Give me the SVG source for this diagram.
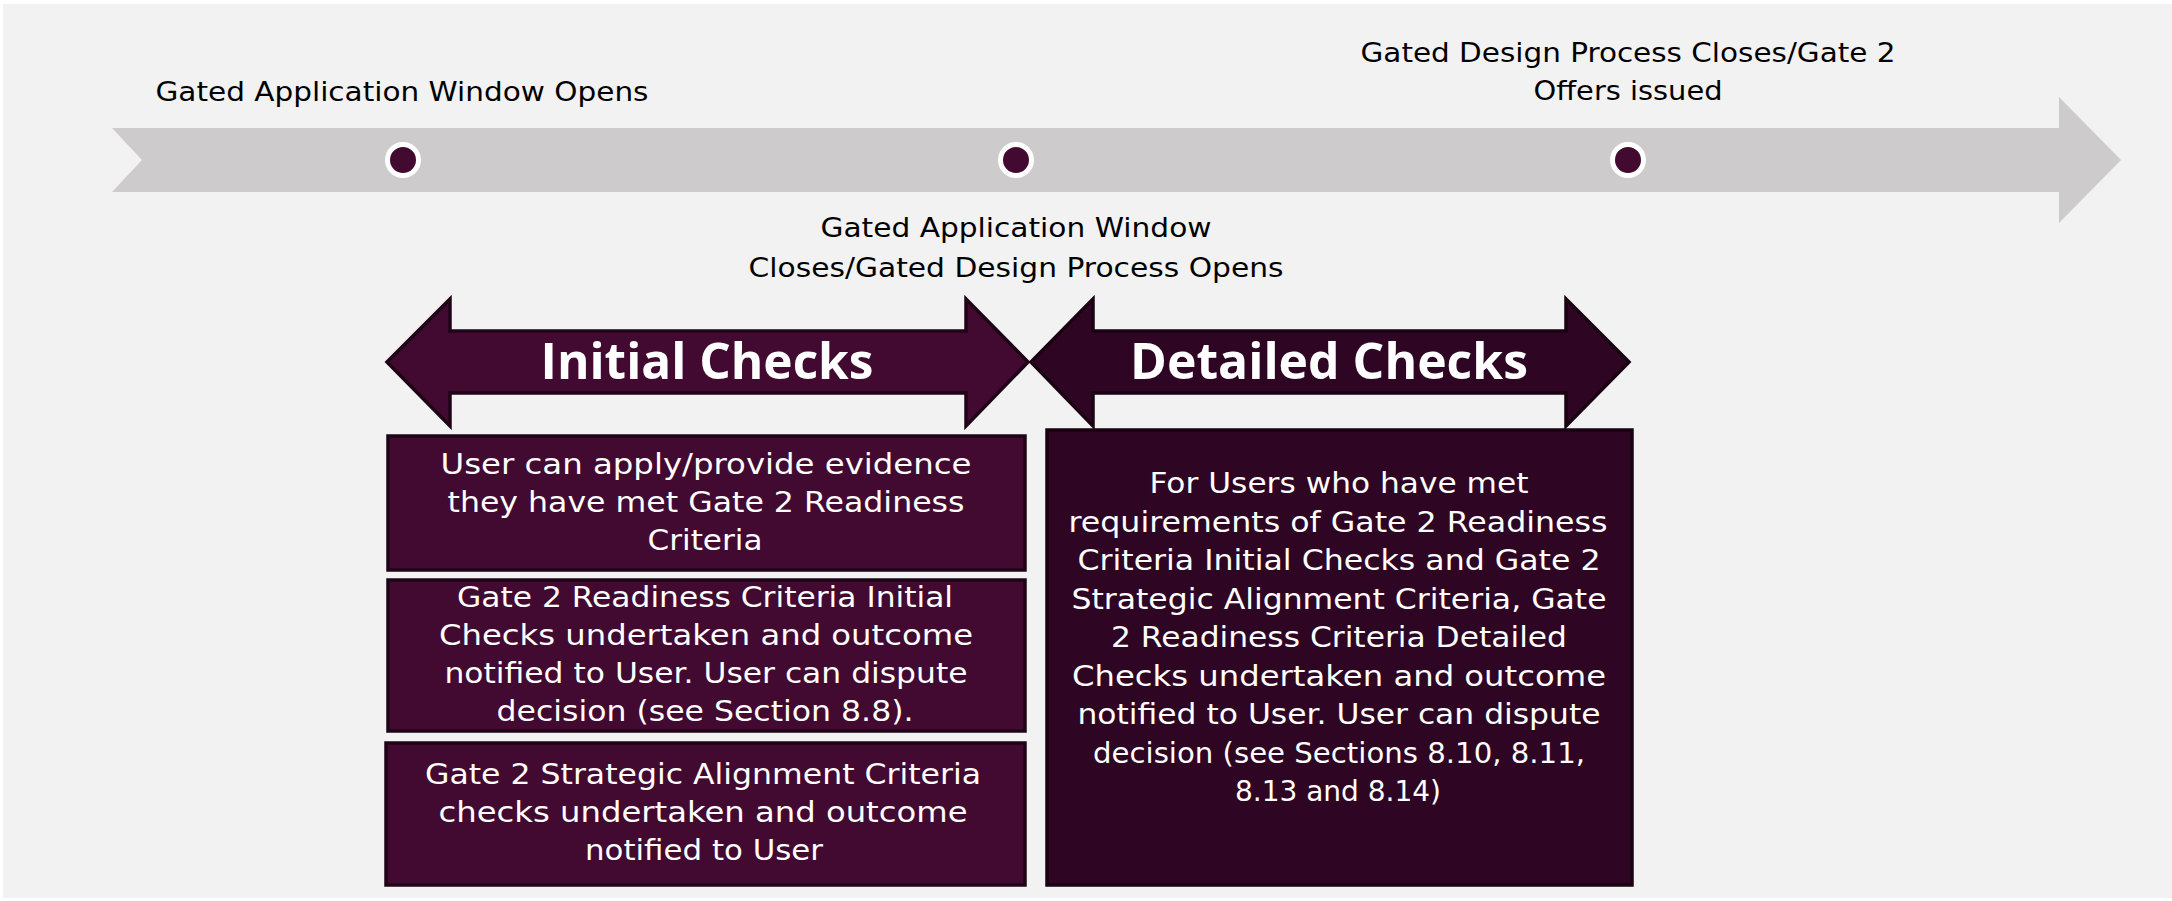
<svg xmlns="http://www.w3.org/2000/svg" width="2172" height="901" viewBox="0 0 2172 901">
<style>
text{text-anchor:middle}
.lbl{font-family:"DejaVu Sans","Open Sans",sans-serif;font-size:26px;fill:#000}
.hd{font-family:"Open Sans","Liberation Sans",sans-serif;font-weight:700;font-size:50px;fill:#fff}
.bt{font-family:"DejaVu Sans","Open Sans",sans-serif;font-size:28px;fill:#fff}
.ini{fill:#420a30;stroke:#1f0417;stroke-width:3.5}
.det{fill:#2e0623;stroke:#1a0213;stroke-width:3.5}
.dot{fill:#420a30;stroke:#fff;stroke-width:5}
</style>
<rect x="3" y="4" width="2169" height="894" fill="#f2f2f2"/>
<g id="timeline">
<polygon points="112,128 2059,128 2059,97 2121,160 2059,223 2059,192 112,192 142,160" fill="#cdcbcc"/>
</g>
<g id="milestone1">
<circle class="dot" cx="403" cy="160" r="15.5"/>
<text class="lbl" x="402" y="101" textLength="493" lengthAdjust="spacingAndGlyphs">Gated Application Window Opens</text>
</g>
<g id="milestone2">
<circle class="dot" cx="1016" cy="160" r="15.5"/>
<text class="lbl" x="1016" y="237" textLength="391" lengthAdjust="spacingAndGlyphs">Gated Application Window</text>
<text class="lbl" x="1016" y="277" textLength="535" lengthAdjust="spacingAndGlyphs">Closes/Gated Design Process Opens</text>
</g>
<g id="milestone3">
<circle class="dot" cx="1628" cy="160" r="15.5"/>
<text class="lbl" x="1628" y="62" textLength="535" lengthAdjust="spacingAndGlyphs">Gated Design Process Closes/Gate 2</text>
<text class="lbl" x="1628" y="100" textLength="189" lengthAdjust="spacingAndGlyphs">Offers issued</text>
</g>
<g id="initial-checks">
<polygon class="ini" points="387,362 450,299 450,331 966,331 966,299 1028,362 966,426 966,393 450,393 450,426"/>
<text class="hd" x="707" y="379" textLength="333" lengthAdjust="spacingAndGlyphs">Initial Checks</text>
</g>
<g id="detailed-checks">
<polygon class="det" points="1031,362 1093,299 1093,331 1566,331 1566,299 1629,362 1566,426 1566,393 1093,393 1093,426"/>
<text class="hd" x="1329" y="379" textLength="398" lengthAdjust="spacingAndGlyphs">Detailed Checks</text>
</g>
<g id="box-apply">
<rect class="ini" x="388" y="436" width="637" height="134"/>
<text class="bt" x="706" y="474" textLength="531" lengthAdjust="spacingAndGlyphs">User can apply/provide evidence</text>
<text class="bt" x="706" y="512" textLength="517" lengthAdjust="spacingAndGlyphs">they have met Gate 2 Readiness</text>
<text class="bt" x="705" y="550" textLength="115" lengthAdjust="spacingAndGlyphs">Criteria</text>
</g>
<g id="box-initial">
<rect class="ini" x="388" y="580" width="637" height="151"/>
<text class="bt" x="705" y="607" textLength="496" lengthAdjust="spacingAndGlyphs">Gate 2 Readiness Criteria Initial</text>
<text class="bt" x="706" y="645" textLength="534" lengthAdjust="spacingAndGlyphs">Checks undertaken and outcome</text>
<text class="bt" x="706" y="683" textLength="523" lengthAdjust="spacingAndGlyphs">notified to User. User can dispute</text>
<text class="bt" x="705" y="721" textLength="417" lengthAdjust="spacingAndGlyphs">decision (see Section 8.8).</text>
</g>
<g id="box-strategic">
<rect class="ini" x="386" y="743" width="639" height="142"/>
<text class="bt" x="703" y="784" textLength="556" lengthAdjust="spacingAndGlyphs">Gate 2 Strategic Alignment Criteria</text>
<text class="bt" x="703" y="822" textLength="529" lengthAdjust="spacingAndGlyphs">checks undertaken and outcome</text>
<text class="bt" x="704" y="860" textLength="238" lengthAdjust="spacingAndGlyphs">notified to User</text>
</g>
<g id="box-detailed">
<rect class="det" x="1047" y="430" width="585" height="455"/>
<text class="bt" x="1339" y="493" textLength="379" lengthAdjust="spacingAndGlyphs">For Users who have met</text>
<text class="bt" x="1338" y="532" textLength="539" lengthAdjust="spacingAndGlyphs">requirements of Gate 2 Readiness</text>
<text class="bt" x="1339" y="570" textLength="523" lengthAdjust="spacingAndGlyphs">Criteria Initial Checks and Gate 2</text>
<text class="bt" x="1339" y="609" textLength="535" lengthAdjust="spacingAndGlyphs">Strategic Alignment Criteria, Gate</text>
<text class="bt" x="1339" y="647" textLength="456" lengthAdjust="spacingAndGlyphs">2 Readiness Criteria Detailed</text>
<text class="bt" x="1339" y="686" textLength="534" lengthAdjust="spacingAndGlyphs">Checks undertaken and outcome</text>
<text class="bt" x="1339" y="724" textLength="523" lengthAdjust="spacingAndGlyphs">notified to User. User can dispute</text>
<text class="bt" x="1339" y="763" textLength="492" lengthAdjust="spacingAndGlyphs">decision (see Sections 8.10, 8.11,</text>
<text class="bt" x="1338" y="801" textLength="206" lengthAdjust="spacingAndGlyphs">8.13 and 8.14)</text>
</g>
<g id="connectors"></g>
</svg>
